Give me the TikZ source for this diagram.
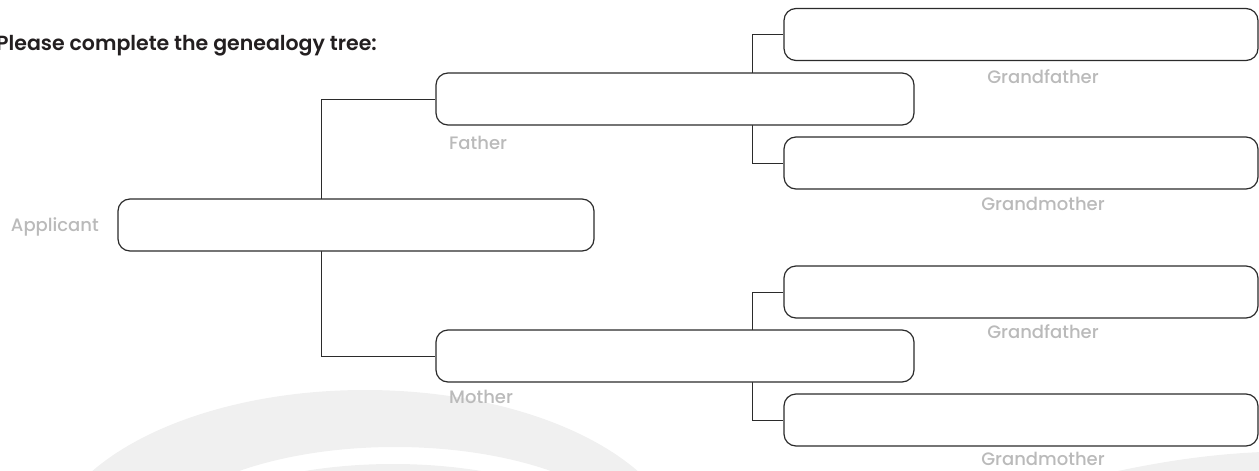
\documentclass[tikz,border=0pt]{standalone}
\usepackage{fontspec}
\setmainfont{Poppins}
\newfontfamily\labfont{Poppins Medium}
\newfontfamily\titlefont{Poppins SemiBold}
\usetikzlibrary{backgrounds}
\definecolor{boxline}{HTML}{2B2B2B}
\definecolor{lbl}{HTML}{BABABA}
\definecolor{titlec}{HTML}{231F20}
\definecolor{wm}{HTML}{F0F0F0}
\begin{document}
\begin{tikzpicture}[x=1pt,y=-1pt,
  box/.style={draw=boxline,line width=1.2pt,rounded corners=12pt,fill=white,inner sep=0pt,minimum height=52pt},
  link/.style={draw=boxline,line width=1pt},
  lab/.style={text=lbl,font=\labfont\fontsize{18}{20}\selectfont,inner sep=0pt},
  ttl/.style={text=titlec,font=\titlefont\fontsize{20.5}{24}\selectfont,inner sep=0pt}]
\useasboundingbox (0,0) rectangle (1259,471);
% boxes
\node[box,minimum width=476pt] (app) at (356,225) {};
\node[box,minimum width=478pt] (fa) at (675,99) {};
\node[box,minimum width=478pt] (mo) at (675,356) {};
\node[box,minimum width=474pt] (gf1) at (1021,34.5) {};
\node[box,minimum width=474pt] (gm1) at (1021,163) {};
\node[box,minimum width=474pt] (gf2) at (1021,292) {};
\node[box,minimum width=474pt] (gm2) at (1021,420) {};
% labels
\node[ttl,anchor=base west] (title) at (-4,50) {Please complete the genealogy tree:};
\node[lab,anchor=east] (lapp) at (99,227) {Applicant};
\node[lab,anchor=west] (lfa) at (449,143) {Father};
\node[lab,anchor=west] (lmo) at (449,397) {Mother};
\node[lab] (lgf1) at (1043,77) {Grandfather};
\node[lab] (lgm1) at (1043,204) {Grandmother};
\node[lab] (lgf2) at (1043,332) {Grandfather};
\node[lab] (lgm2) at (1043,459) {Grandmother};
\coordinate (j1) at (321,0);
\coordinate (j2) at (752,0);
\begin{scope}[on background layer]
  % watermark
  \fill[wm,even odd rule]
    (365,560) ellipse [x radius=320, y radius=170]
    (395,560) ellipse [x radius=253, y radius=113];
  \fill[wm] (393,560) ellipse [x radius=235, y radius=96];
  \fill[wm] (1118,471) .. controls (1170,460) and (1215,454) .. (1262,452) -- (1262,471) -- cycle;
  % connectors
  \draw[link] (fa.west) -- (fa.west -| j1) -- (mo.west -| j1) -- (mo.west);
  \draw[link] (gf1.west) -- (gf1.west -| j2) -- (gm1.west -| j2) -- (gm1.west);
  \draw[link] (gf2.west) -- (gf2.west -| j2) -- (gm2.west -| j2) -- (gm2.west);
\end{scope}
\end{tikzpicture}
\end{document}
